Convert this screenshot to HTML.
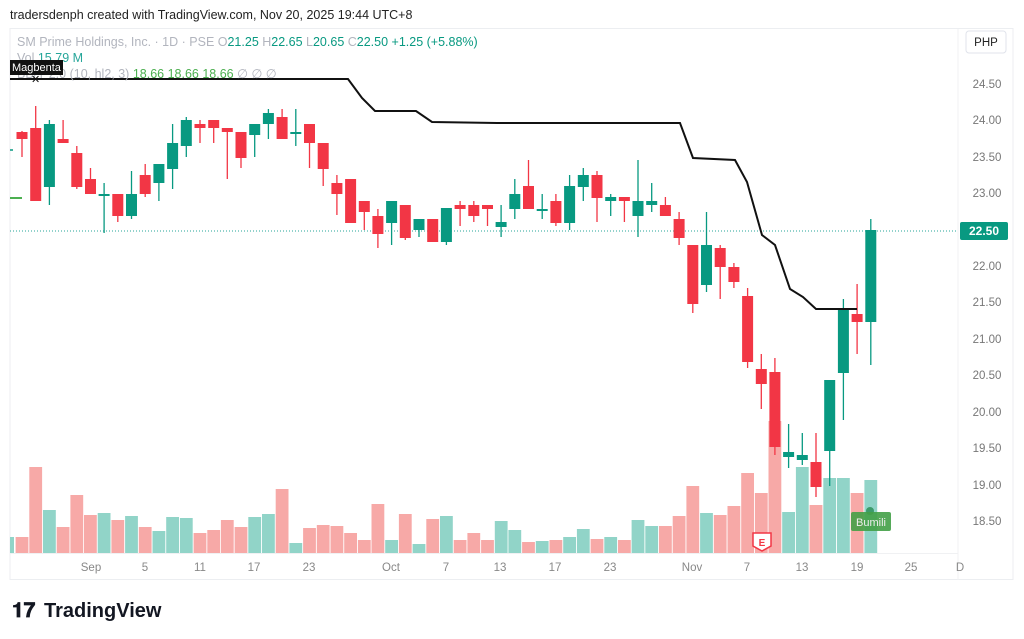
<!DOCTYPE html>
<html><head><meta charset="utf-8"><style>
body{margin:0;background:#fff;width:1024px;height:639px;overflow:hidden;font-family:"Liberation Sans",sans-serif}
svg{position:absolute;left:0;top:0}
</style></head><body>
<svg id="s" width="1024" height="639" xmlns="http://www.w3.org/2000/svg" font-family="Liberation Sans, sans-serif">
<text x="10" y="19" font-size="12.5" fill="#222">tradersdenph created with TradingView.com, Nov 20, 2025 19:44 UTC+8</text>
<rect x="10" y="28.5" width="1003" height="551" fill="none" stroke="#eceef1"/>
<line x1="958" y1="29" x2="958" y2="580" stroke="#f0f1f3"/>
<line x1="10" y1="553.5" x2="958" y2="553.5" stroke="#f0f1f3"/>
<line x1="10" y1="231" x2="958" y2="231" stroke="#26a69a" stroke-dasharray="1,2" stroke-width="1"/>
<g id="c"></g>
<polyline fill="none" stroke="#111" stroke-width="2" points="10,79 348,79 362,98 375,111 416,111 432,122 497,123 680,123 693,158 735,160 747,182 762,235 775,245 790,289 803,297 816,309 857,309"/>
<g font-size="12.5" fill="#b2b5be">
<text x="17" y="46">SM Prime Holdings, Inc. · 1D · PSE  O<tspan fill="#089981">21.25</tspan>  H<tspan fill="#089981">22.65</tspan>  L<tspan fill="#089981">20.65</tspan>  C<tspan fill="#089981">22.50</tspan>  <tspan fill="#089981">+1.25 (+5.88%)</tspan></text>
<text x="17" y="62">Vol  <tspan fill="#26a69a">15.79 M</tspan></text>
<text x="17" y="78">BB/Y 2.0 (10, hl2, 3)  <tspan fill="#4caf50">18.66  18.66  18.66</tspan>  ∅  ∅  ∅</text>
</g>
<rect x="10" y="60" width="53" height="15" fill="#111"/>
<text x="12" y="71" font-size="11" fill="#fff">Magbenta</text>
<text x="31" y="83" font-size="11" fill="#111">✕</text>
<rect x="966" y="31" width="40" height="22" rx="3" fill="#fff" stroke="#e0e3eb"/>
<text x="986" y="46" font-size="11.5" fill="#222" text-anchor="middle">PHP</text>
<g font-size="11.5" fill="#777" text-anchor="middle">
<text x="987" y="88">24.50</text><text x="987" y="124">24.00</text><text x="987" y="161">23.50</text><text x="987" y="197">23.00</text><text x="987" y="270">22.00</text><text x="987" y="306">21.50</text><text x="987" y="343">21.00</text><text x="987" y="379">20.50</text><text x="987" y="416">20.00</text><text x="987" y="452">19.50</text><text x="987" y="489">19.00</text><text x="987" y="525">18.50</text>
</g>
<rect x="960" y="222" width="48" height="18" rx="2" fill="#089981"/>
<text x="984" y="235" font-size="12" fill="#fff" text-anchor="middle" font-weight="bold">22.50</text>
<g font-size="11.5" fill="#888" text-anchor="middle">
<text x="91" y="571">Sep</text><text x="145" y="571">5</text><text x="200" y="571">11</text><text x="254" y="571">17</text><text x="309" y="571">23</text><text x="391" y="571">Oct</text><text x="446" y="571">7</text><text x="500" y="571">13</text><text x="555" y="571">17</text><text x="610" y="571">23</text><text x="692" y="571">Nov</text><text x="747" y="571">7</text><text x="802" y="571">13</text><text x="857" y="571">19</text><text x="911" y="571">25</text><text x="960" y="571">D</text>
</g>
<path d="M753,533 h18 v13 l-9,5 l-9,-5z" fill="#fff" stroke="#f23645" stroke-width="1.5"/>
<text x="762" y="546" font-size="10" fill="#f23645" text-anchor="middle" font-weight="bold">E</text>
<circle cx="870" cy="511" r="4" fill="#3c9b6a"/>
<rect x="851" y="512" width="40" height="19" rx="2" fill="#43a047" opacity="0.9"/>
<text x="871" y="526" font-size="11" fill="#eee" text-anchor="middle">Bumili</text>
<text x="12" y="617" font-size="21" font-weight="bold" fill="#131722">𝟏𝟕</text>
<text x="44" y="617" font-size="20" font-weight="bold" fill="#131722">TradingView</text>
</svg>
<script>
var d=[[132,139,131,157,0],[128,201,106,201,0],[187,124,120,205,1],[139,143,120,143,0],[153,187,146,189,0],[179,194,168,194,0],[194,194,183,233,1],[194,216,194,222,0],[216,194,171,219,1],[175,194,164,197,0],[183,164,164,201,1],[169,143,124,189,1],[146,120,117,157,1],[124,128,120,143,0],[120,128,120,143,0],[128,132,128,179,0],[132,158,132,168,0],[135,124,124,157,1],[124,113,109,139,1],[117,139,109,139,0],[132,132,109,146,1],[124,143,124,168,0],[143,169,143,186,0],[183,194,175,215,0],[179,223,179,223,0],[201,212,201,230,0],[216,234,209,248,0],[223,201,201,245,1],[205,238,205,240,0],[230,219,219,237,1],[219,242,219,242,0],[242,208,208,245,1],[205,209,201,226,0],[205,216,201,222,0],[205,209,205,226,0],[227,222,205,237,1],[209,194,179,219,1],[186,209,160,209,0],[209,209,194,219,1],[201,223,194,226,0],[223,186,175,230,1],[187,175,168,201,1],[175,198,171,222,0],[201,197,194,216,1],[197,201,197,222,0],[216,201,160,237,1],[205,201,183,212,1],[205,216,197,216,0],[219,238,212,245,0],[245,304,245,313,0],[285,245,212,292,1],[248,267,245,299,0],[267,282,263,288,0],[296,362,288,368,0],[369,384,354,409,0],[372,447,358,455,0],[457,452,424,468,1],[460,455,433,465,1],[462,487,433,497,0],[451,380,380,486,1],[373,309,299,420,1],[314,322,284,354,0],[322,230,219,365,1]];
var v=[537,467,510,527,495,515,513,520,516,527,531,517,518,533,530,520,527,517,514,489,543,528,525,526,533,540,504,540,514,544,519,516,540,533,540,521,530,542,541,540,537,529,539,537,540,520,526,526,516,486,513,515,506,473,493,421,512,467,505,478,478,493,480];
var s='<rect x="10" y="537" width="4" height="16" fill="#91d4c8"/>';
for(var i=0;i<v.length;i++){var x=22+i*13.69;s+='<rect x="'+(x-6.4).toFixed(1)+'" y="'+v[i]+'" width="12.8" height="'+(553-v[i])+'" fill="'+(d[i][4]?'#91d4c8':'#f7a9a7')+'"/>';}
for(var i=0;i<d.length;i++){var x=22+i*13.69,c=d[i],col=c[4]?'#089981':'#f23645';var t=Math.min(c[0],c[1]),b=Math.max(c[0],c[1]);if(b-t<2){b=t+2;}
s+='<line x1="'+x.toFixed(1)+'" x2="'+x.toFixed(1)+'" y1="'+c[2]+'" y2="'+c[3]+'" stroke="'+col+'" stroke-width="1.3"/>';
s+='<rect x="'+(x-5.5).toFixed(1)+'" y="'+t+'" width="11" height="'+(b-t)+'" fill="'+col+'"/>';}
s+='<line x1="10" x2="22" y1="198" y2="198" stroke="#4caf50" stroke-width="2"/><line x1="10" x2="13" y1="150" y2="150" stroke="#089981" stroke-width="1.5"/>';
document.getElementById('c').innerHTML=s;
</script>
</body></html>
